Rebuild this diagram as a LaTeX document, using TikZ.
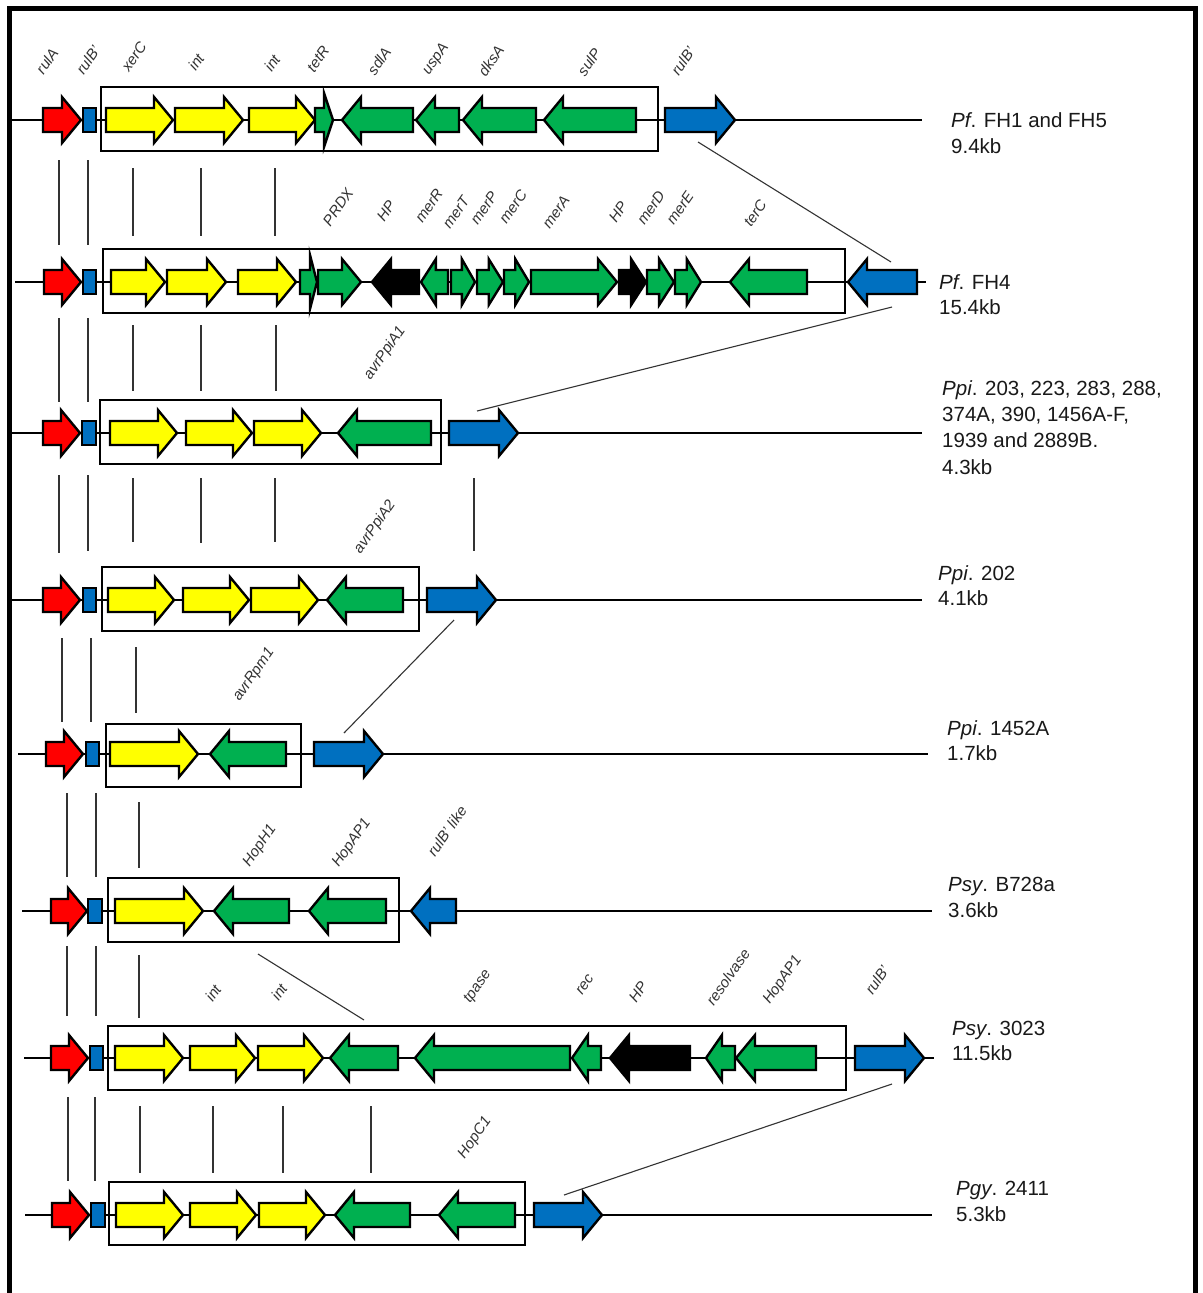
\documentclass[tikz,border=0pt]{standalone}
\usepackage{fontspec}
\setmainfont{Liberation Sans}
\definecolor{gred}{RGB}{255,0,0}
\definecolor{gblue}{RGB}{0,112,192}
\definecolor{ggreen}{RGB}{0,176,80}
\definecolor{gyel}{RGB}{255,255,0}
\tikzset{
  gene/.style={draw=black, line width=2.4pt, line join=miter},
  bb/.style={line width=2pt},
  cassette/.style={draw=black, line width=2pt},
  link/.style={line width=1.1pt, draw=black!80},
  glabel/.style={font=\fontsize{15}{15}\selectfont\itshape, text=black!80, rotate=55, inner sep=0pt},
  slabel/.style={font=\fontsize{20.5}{24}\selectfont, text=black!90, anchor=base west, inner sep=0pt},
}
% forward gene: x1 x2 y colour
\newcommand\gfw[4]{%
  \pgfmathsetmacro\ghl{min(19,0.55*(#2-#1))}%
  \draw[gene,fill=#4] (#1,{#3-12}) -- ({#2-\ghl},{#3-12}) -- ({#2-\ghl},{#3-23}) -- (#2,#3) -- ({#2-\ghl},{#3+23}) -- ({#2-\ghl},{#3+12}) -- (#1,{#3+12}) -- cycle;}
% reverse gene: tip x1, end x2, y, colour
\newcommand\grv[4]{%
  \pgfmathsetmacro\ghl{min(19,0.55*(#2-#1))}%
  \draw[gene,fill=#4] (#2,{#3-12}) -- ({#1+\ghl},{#3-12}) -- ({#1+\ghl},{#3-23}) -- (#1,#3) -- ({#1+\ghl},{#3+23}) -- ({#1+\ghl},{#3+12}) -- (#2,{#3+12}) -- cycle;}
% thin forward gene with tall head: x1 headbase tip y
\newcommand\gthin[4]{%
  \draw[gene,fill=ggreen] (#1,{#3-0}) ;%
  \draw[gene,fill=ggreen] (#1,{#4-12}) -- (#2,{#4-12}) -- (#2,{#4-27}) -- (#3,#4) -- (#2,{#4+27}) -- (#2,{#4+12}) -- (#1,{#4+12}) -- cycle;}
\newcommand\grect[3]{\draw[gene,fill=gblue] (#1,{#3-12}) rectangle (#2,{#3+12});}
\begin{document}
\begin{tikzpicture}[x=1pt,y=-1pt]
\useasboundingbox (0,0) rectangle (1202,1293);
\fill[white] (0,0) rectangle (1202,1293);
\begin{scope}
\clip (0,0) rectangle (1202,1293);
\draw[line width=4.5pt] (9.5,1320) -- (9.5,8.5) -- (1195.5,8.5) -- (1195.5,1320);
\end{scope}

% ---------------- Row 1 ----------------
\draw[bb] (12,120) -- (922,120);
\draw[cassette] (101,87) rectangle (658,151);
\gfw{43}{81}{120}{gred}
\grect{83}{96}{120}
\gfw{106}{173}{120}{gyel}
\gfw{175}{243}{120}{gyel}
\gfw{249}{315}{120}{gyel}
\gthin{315}{324}{333}{120}
\grv{342}{413}{120}{ggreen}
\grv{416}{459}{120}{ggreen}
\grv{463}{536}{120}{ggreen}
\grv{544}{636}{120}{ggreen}
\gfw{665}{735}{120}{gblue}
\node[glabel] (l1a) at (47,61) {rulA};
\node[glabel] (l1b) at (88,60) {rulB'};
\node[glabel] (l1c) at (134,57) {xerC};
\node[glabel] (l1d) at (196,62) {int};
\node[glabel] (l1e) at (272,63) {int};
\node[glabel] (l1f) at (318,59) {tetR};
\node[glabel] (l1g) at (379,61) {sdlA};
\node[glabel] (l1h) at (436,59) {uspA};
\node[glabel] (l1i) at (491,61) {dksA};
\node[glabel] (l1j) at (589,62) {sulP};
\node[glabel] (l1k) at (683,61) {rulB'};
\node[slabel] (t1a) at (951,127) {\textit{Pf}. FH1 and FH5};
\node[slabel] (t1b) at (951,153) {9.4kb};

% links 1-2
\draw[link] (59,160) -- (59,245);
\draw[link] (88,160) -- (88,245);
\draw[link] (133,168) -- (133,236);
\draw[link] (201,168) -- (201,236);
\draw[link] (275,168) -- (275,236);
\draw[link] (698,142) -- (891,262);

% ---------------- Row 2 ----------------
\draw[bb] (15,282) -- (926,282);
\draw[cassette] (103,249) rectangle (845,313);
\gfw{44}{81}{282}{gred}
\grect{83}{96}{282}
\gfw{111}{165}{282}{gyel}
\gfw{167}{226}{282}{gyel}
\gfw{238}{296}{282}{gyel}
\gthin{300}{310}{317}{282}
\gfw{318}{361}{282}{ggreen}
\grv{372}{419}{282}{black}
\grv{421}{448}{282}{ggreen}
\gfw{451}{475}{282}{ggreen}
\gfw{477}{503}{282}{ggreen}
\gfw{504}{529}{282}{ggreen}
\gfw{531}{617}{282}{ggreen}
\gfw{619}{646}{282}{black}
\gfw{647}{674}{282}{ggreen}
\gfw{675}{701}{282}{ggreen}
\grv{730}{807}{282}{ggreen}
\grv{848}{917}{282}{gblue}
\node[glabel] (l2a) at (338,207) {PRDX};
\node[glabel] (l2b) at (386,211) {HP};
\node[glabel] (l2c) at (429,206) {merR};
\node[glabel] (l2d) at (456,212) {merT};
\node[glabel] (l2e) at (484,208) {merP};
\node[glabel] (l2f) at (513,207) {merC};
\node[glabel] (l2g) at (556,212) {merA};
\node[glabel] (l2h) at (618,212) {HP};
\node[glabel] (l2i) at (651,208) {merD};
\node[glabel] (l2j) at (680,208) {merE};
\node[glabel] (l2k) at (755,213) {terC};
\node[slabel] (t2a) at (939,289) {\textit{Pf}. FH4};
\node[slabel] (t2b) at (939,314) {15.4kb};

% links 2-3
\draw[link] (59,318) -- (59,402);
\draw[link] (88,318) -- (88,402);
\draw[link] (133,325) -- (133,391);
\draw[link] (201,325) -- (201,391);
\draw[link] (276,325) -- (276,391);
\draw[link] (892,307) -- (477,411);

% ---------------- Row 3 ----------------
\draw[bb] (12,433) -- (922,433);
\draw[cassette] (100,400) rectangle (441,464);
\gfw{43}{80}{433}{gred}
\grect{82}{96}{433}
\gfw{110}{177}{433}{gyel}
\gfw{186}{252}{433}{gyel}
\gfw{254}{321}{433}{gyel}
\grv{338}{431}{433}{ggreen}
\gfw{449}{518}{433}{gblue}
\node[glabel] (l3a) at (385,353) {avrPpiA1};
\node[slabel] (t3a) at (942,395) {\textit{Ppi}. 203, 223, 283, 288,};
\node[slabel] (t3b) at (942,421) {374A, 390, 1456A-F,};
\node[slabel] (t3c) at (942,447) {1939 and 2889B.};
\node[slabel] (t3d) at (942,474) {4.3kb};

% links 3-4
\draw[link] (59,475) -- (59,553);
\draw[link] (88,475) -- (88,551);
\draw[link] (133,478) -- (133,542);
\draw[link] (201,478) -- (201,543);
\draw[link] (275,478) -- (275,542);
\draw[link] (474,478) -- (474,551);

% ---------------- Row 4 ----------------
\draw[bb] (10,600) -- (922,600);
\draw[cassette] (102,567) rectangle (419,631);
\gfw{43}{80}{600}{gred}
\grect{83}{96}{600}
\gfw{108}{174}{600}{gyel}
\gfw{183}{249}{600}{gyel}
\gfw{251}{318}{600}{gyel}
\grv{327}{403}{600}{ggreen}
\gfw{427}{496}{600}{gblue}
\node[glabel] (l4a) at (375,527) {avrPpiA2};
\node[slabel] (t4a) at (938,580) {\textit{Ppi}. 202};
\node[slabel] (t4b) at (938,605) {4.1kb};

% links 4-5
\draw[link] (62,638) -- (62,722);
\draw[link] (91,638) -- (91,722);
\draw[link] (136,647) -- (136,713);
\draw[link] (454,620) -- (344,733);

% ---------------- Row 5 ----------------
\draw[bb] (18,754) -- (928,754);
\draw[cassette] (106,724) rectangle (301,787);
\gfw{46}{83}{754}{gred}
\grect{86}{99}{754}
\gfw{110}{198}{754}{gyel}
\grv{210}{286}{754}{ggreen}
\gfw{314}{383}{754}{gblue}
\node[glabel] (l5a) at (254,675) {avrRpm1};
\node[slabel] (t5a) at (947,735) {\textit{Ppi}. 1452A};
\node[slabel] (t5b) at (947,760) {1.7kb};

% links 5-6
\draw[link] (67,793) -- (67,877);
\draw[link] (96,793) -- (96,877);
\draw[link] (139,802) -- (139,868);

% ---------------- Row 6 ----------------
\draw[bb] (22,911) -- (932,911);
\draw[cassette] (108,878) rectangle (399,942);
\gfw{51}{87}{911}{gred}
\grect{88}{102}{911}
\gfw{115}{203}{911}{gyel}
\grv{214}{289}{911}{ggreen}
\grv{309}{386}{911}{ggreen}
\grv{411}{456}{911}{gblue}
\node[glabel] (l6a) at (260,846) {HopH1};
\node[glabel] (l6b) at (352,843) {HopAP1};
\node[glabel] (l6c) at (447,831) {rulB' like};
\node[slabel] (t6a) at (948,891) {\textit{Psy}. B728a};
\node[slabel] (t6b) at (948,917) {3.6kb};

% links 6-7
\draw[link] (67,946) -- (67,1016);
\draw[link] (96,946) -- (96,1016);
\draw[link] (139,955) -- (139,1018);
\draw[link] (258,954) -- (364,1020);

% ---------------- Row 7 ----------------
\draw[bb] (24,1058) -- (934,1058);
\draw[cassette] (108,1026) rectangle (846,1090);
\gfw{51}{88}{1058}{gred}
\grect{90}{103}{1058}
\gfw{115}{183}{1058}{gyel}
\gfw{190}{255}{1058}{gyel}
\gfw{258}{323}{1058}{gyel}
\grv{330}{398}{1058}{ggreen}
\grv{415}{570}{1058}{ggreen}
\grv{572}{601}{1058}{ggreen}
\grv{610}{690}{1058}{black}
\grv{706}{735}{1058}{ggreen}
\grv{736}{816}{1058}{ggreen}
\gfw{855}{924}{1058}{gblue}
\node[glabel] (l7a) at (213,993) {int};
\node[glabel] (l7b) at (279,992) {int};
\node[glabel] (l7c) at (478,987) {tpase};
\node[glabel] (l7d) at (585,985) {rec};
\node[glabel] (l7e) at (638,992) {HP};
\node[glabel] (l7f) at (728,977) {resolvase};
\node[glabel] (l7g) at (783,980) {HopAP1};
\node[glabel] (l7h) at (877,980) {rulB'};
\node[slabel] (t7a) at (952,1035) {\textit{Psy}. 3023};
\node[slabel] (t7b) at (952,1060) {11.5kb};

% links 7-8
\draw[link] (68,1097) -- (68,1181);
\draw[link] (95,1097) -- (95,1181);
\draw[link] (140,1106) -- (140,1173);
\draw[link] (213,1106) -- (213,1173);
\draw[link] (283,1106) -- (283,1173);
\draw[link] (371,1106) -- (371,1173);
\draw[link] (892,1084) -- (564,1195);

% ---------------- Row 8 ----------------
\draw[bb] (25,1215) -- (932,1215);
\draw[cassette] (109,1182) rectangle (525,1245);
\gfw{52}{89}{1215}{gred}
\grect{91}{105}{1215}
\gfw{116}{183}{1215}{gyel}
\gfw{190}{256}{1215}{gyel}
\gfw{259}{325}{1215}{gyel}
\grv{335}{410}{1215}{ggreen}
\grv{439}{515}{1215}{ggreen}
\gfw{534}{602}{1215}{gblue}
\node[glabel] (l8a) at (475,1138) {HopC1};
\node[slabel] (t8a) at (956,1195) {\textit{Pgy}. 2411};
\node[slabel] (t8b) at (956,1221) {5.3kb};
\end{tikzpicture}
\end{document}
